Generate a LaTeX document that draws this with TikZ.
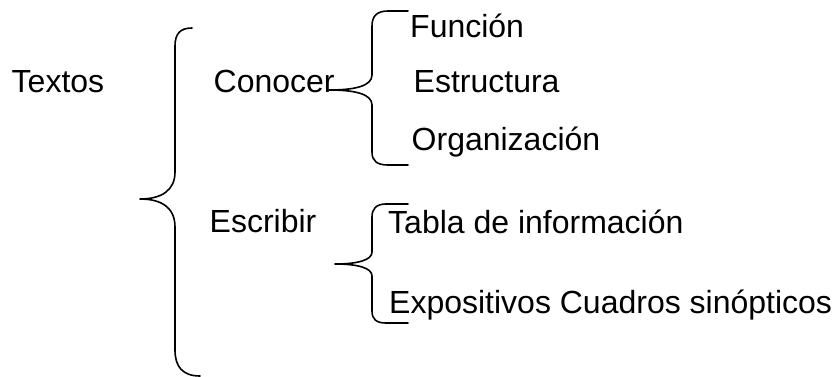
\documentclass[tikz,border=0pt]{standalone}
\usepackage{fontspec}
\setmainfont{Liberation Sans}
\tikzset{
  txt/.style={anchor=base west, inner sep=0pt, font=\fontsize{32}{38}\selectfont},
  llave/.style={line width=1.6pt, line cap=round, line join=round}
}
\begin{document}
\begin{tikzpicture}[x=1pt,y=-1pt]
\useasboundingbox (0,0) rectangle (837,377);

\node[txt] (textos) at (11.5,93) {Textos};
\node[txt] (conocer) at (213.5,93) {Conocer};
\node[txt] (escribir) at (209.5,232) {Escribir};

\node[txt] (funcion) at (410,38) {Función};
\node[txt] (estructura) at (413.5,93) {Estructura};
\node[txt] (organizacion) at (411.5,150) {Organización};
\node[txt] (tabla) at (388,233) {Tabla de información};
\node[txt] (expositivos) at (389,313) {Expositivos Cuadros sinópticos};

%llave grande
\draw[llave] (192,28) .. controls (180,28) and (175,34) .. (175,46) -- (175,172)
  .. controls (175,190) and (162,199) .. (140,199)
  .. controls (162,199) and (175,208) .. (175,227) -- (175,350)
  .. controls (175,366) and (182,376) .. (200,376);
%llave de conocer
\draw[llave] (408,11) -- (388,11) .. controls (377,11) and (372,16) .. (372,26) -- (372,75)
  .. controls (372,86) and (355,90) .. (329,90)
  .. controls (355,90) and (372,94) .. (372,105) -- (372,152)
  .. controls (372,161) and (377,165) .. (388,165) -- (408,165);
%llave de escribir
\draw[llave] (408,204) -- (386,204) .. controls (376,204) and (372,209) .. (372,217) -- (372,252)
  .. controls (372,260) and (358,264) .. (335,264)
  .. controls (358,264) and (372,268) .. (372,276) -- (372,311)
  .. controls (372,319) and (376,323) .. (386,323) -- (408,323);
\end{tikzpicture}
\end{document}
